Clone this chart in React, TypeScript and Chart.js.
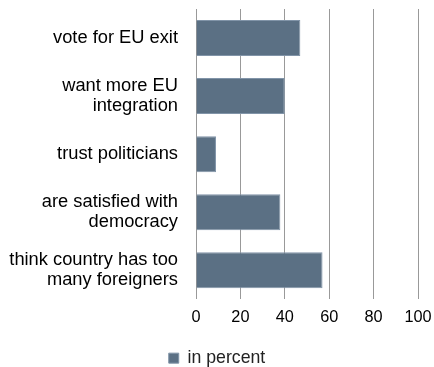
import React, { useEffect, useRef } from "react";
import { Chart, registerables } from "chart.js";

Chart.register(...registerables);

const categories: (string | string[])[] = [
  "vote for EU exit",
  ["want more EU", "integration"],
  "trust politicians",
  ["are satisfied with", "democracy"],
  ["think country has too", "many foreigners"],
];
const values = [47, 40, 9, 38, 57];
const seriesName = "in percent";
const xTicks = [0, 20, 40, 60, 80, 100];

export default function App() {
  const ref = useRef<HTMLCanvasElement>(null);
  useEffect(() => {
    if (!ref.current) return;
    const chart = new Chart(ref.current, {
      type: "bar",
      data: {
        labels: categories,
        datasets: [
          {
            label: seriesName,
            data: values,
            backgroundColor: "#5b7084",
            borderColor: "#8194a8",
            borderWidth: 1,
            categoryPercentage: 1,
            barPercentage: 0.62,
          },
        ],
      },
      options: {
        indexAxis: "y",
        animation: false,
        responsive: true,
        maintainAspectRatio: false,
        layout: { padding: { top: 9, right: 0, bottom: -10, left: 0 } },
        scales: {
          x: {
            min: 0,
            max: 100,
            afterBuildTicks: (s: any) => {
              s.ticks = xTicks.map((v) => ({ value: v }));
            },
            afterFit: (s: any) => {
              s.paddingLeft = 0;
              s.paddingRight = 16;
              s.height = 48;
            },
            grid: { color: "#999999", lineWidth: 1, drawTicks: false },
            border: { display: false },
            ticks: {
              padding: 8,
              color: "#000",
              font: { family: "Liberation Sans, Arial", size: 16.3 },
            },
          },
          y: {
            grid: { display: false, drawTicks: false },
            border: { display: false },
            afterFit: (s: any) => {
              s.width = 196;
              s.paddingTop = 0;
              s.paddingBottom = 0;
            },
            ticks: {
              padding: 18,
              color: "#000",
              font: { family: "Liberation Sans, Arial", size: 18.3, lineHeight: 1.08 },
            },
          },
        },
        plugins: {
          legend: {
            position: "bottom",
            labels: {
              boxWidth: 10,
              boxHeight: 10,
              padding: 2,
              color: "#222",
              font: { family: "Liberation Sans, Arial", size: 17.7 },
            },
          },
          tooltip: { enabled: false },
        },
      },
    });
    return () => chart.destroy();
  }, []);
  return (
    <div style={{ position: "fixed", left: 0, top: 0, width: 434, height: 367, background: "#fff" }}>
      <canvas ref={ref} />
    </div>
  );
}
